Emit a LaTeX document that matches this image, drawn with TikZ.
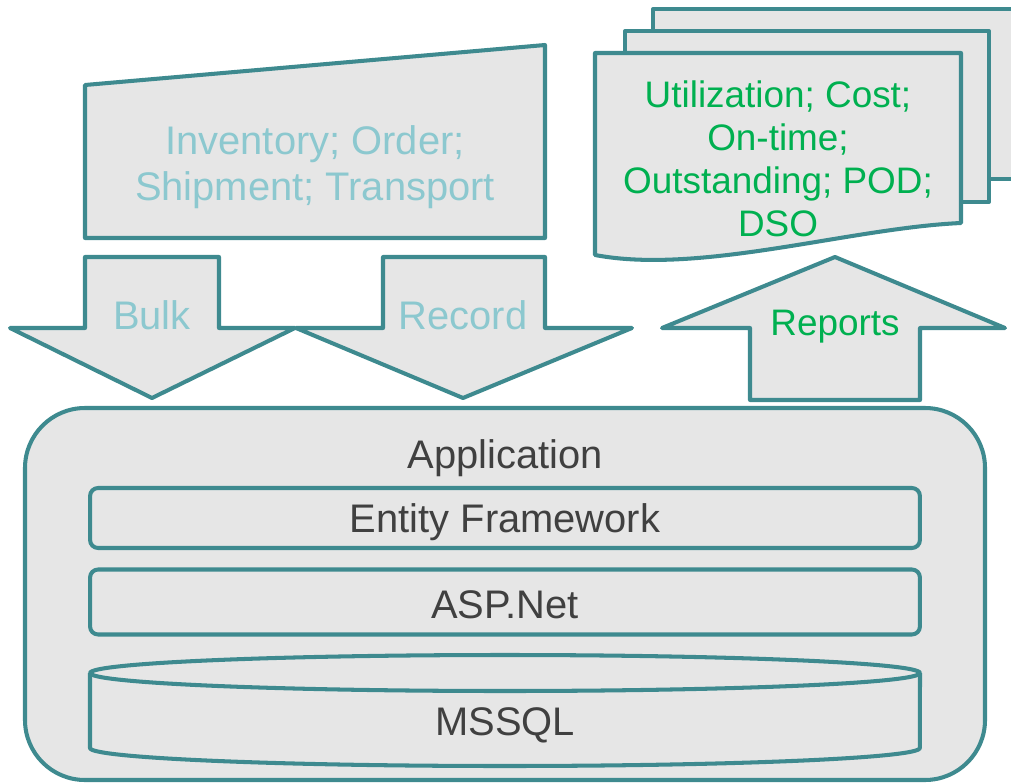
\documentclass[tikz,border=0pt]{standalone}
\usepackage{fontspec}
\setmainfont{Liberation Sans}
\definecolor{tealline}{HTML}{3E8A8F}
\definecolor{boxfill}{HTML}{E6E6E6}
\definecolor{lighttext}{HTML}{8CC8CF}
\definecolor{greentext}{HTML}{00B050}
\definecolor{darktext}{HTML}{404040}
\tikzset{
  shapebox/.style={draw=tealline, fill=boxfill, line width=2.3pt, line join=round},
  layerbox/.style={shapebox, rounded corners=0.16cm, minimum width=16.6cm},
  maintext/.style={font=\fontsize{22.7}{26.5}\selectfont, align=center},
  greentxt/.style={font=\fontsize{21}{24.5}\selectfont, text=greentext, align=center},
}
\begin{document}
\begin{tikzpicture}[x=0.02cm, y=-0.02cm]
    \useasboundingbox (0,0) rectangle (1011,784);

    % Report pages
    \draw[shapebox] (653,9) rectangle (1016,179);
    \draw[shapebox] (625,31) rectangle (989,202);
    \draw[shapebox] (595,53) -- (961,53) -- (961,223)
        .. controls (850,228) and (700,275) .. (595,255) -- cycle;
    \node[greentxt] (kpis) at (778,159) {Utilization; Cost;\\On-time;\\Outstanding; POD;\\DSO};

    % Manual input
    \draw[shapebox] (85,85) -- (545,45) -- (545,238) -- (85,238) -- cycle;
    \node[maintext, text=lighttext] (inputs) at (315,167) {Inventory; Order;\\Shipment; Transport};

    % Down arrows
    \draw[shapebox] (85,257) -- (219,257) -- (219,328) -- (295,328) -- (152,398)
        -- (10,328) -- (85,328) -- cycle;
    \node[maintext, text=lighttext] (bulk) at (152,315) {Bulk};
    \draw[shapebox] (383,257) -- (545,257) -- (545,328) -- (632,328) -- (463,398)
        -- (296,328) -- (383,328) -- cycle;
    \node[maintext, text=lighttext] (record) at (463,315) {Record};

    % Up arrow
    \draw[shapebox] (750,400) -- (750,328) -- (662,328) -- (835,257) -- (1005,328)
        -- (920,328) -- (920,400) -- cycle;
    \node[greentxt] (reports) at (835,327) {Reports};

    % Application stack
    \draw[shapebox, rounded corners=1.2cm] (25,408) rectangle (985,780);
    \node[maintext, text=darktext] (app) at (505,458) {Application};
    \node[layerbox, minimum height=1.2cm] (ef) at (505,518) {};
    \node[maintext, text=darktext] (eftext) at (505,522) {Entity Framework};
    \node[layerbox, minimum height=1.3cm] (asp) at (505,602) {};
    \node[maintext, text=darktext] (asptext) at (505,605) {ASP.Net};

    % Database
    \draw[shapebox] (90,673) -- (90,748)
        arc[start angle=180, end angle=360, x radius=8.3cm, y radius=0.36cm] -- (920,673);
    \draw[shapebox] (505,673) ellipse [x radius=8.3cm, y radius=0.36cm];
    \node[maintext, text=darktext] (mssql) at (505,725) {MSSQL};
\end{tikzpicture}
\end{document}
